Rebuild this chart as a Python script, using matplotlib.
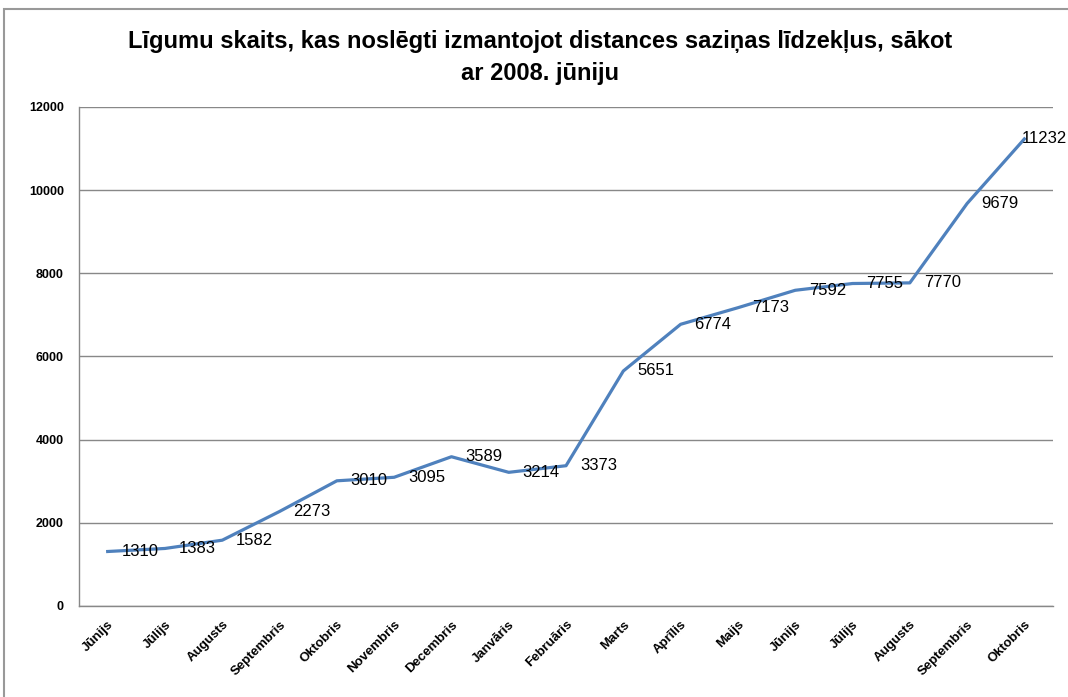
import matplotlib.pyplot as plt
from matplotlib.patches import Rectangle

plt.rcParams['font.family'] = ['Liberation Sans Narrow', 'Liberation Sans', 'DejaVu Sans']

months = ["Jūnijs", "Jūlijs", "Augusts", "Septembris", "Oktobris", "Novembris",
          "Decembris", "Janvāris", "Februāris", "Marts", "Aprīlis", "Maijs",
          "Jūnijs", "Jūlijs", "Augusts", "Septembris", "Oktobris"]
contracts = [1310, 1383, 1582, 2273, 3010, 3095, 3589, 3214, 3373,
             5651, 6774, 7173, 7592, 7755, 7770, 9679, 11232]
y_ticks = [0, 2000, 4000, 6000, 8000, 10000, 12000]

fig = plt.figure(figsize=(10.68, 6.97), dpi=100)
ax = fig.add_axes([0.074, 0.1306, 0.912, 0.7159])

x = list(range(len(contracts)))
ax.plot(x, contracts, color='#4F81BD', linewidth=2.3, solid_joinstyle='round')
for xi, v in zip(x, contracts):
    # last label is pushed left so it stays inside the chart, like Excel does
    dx = -2 if xi == len(contracts) - 1 else 10
    ax.annotate(str(v), (xi, v), xytext=(dx, 0), textcoords='offset points',
                ha='left', va='center', fontsize=12, color='black')

ax.set_xlim(-0.5, len(contracts) - 0.5)
ax.set_ylim(0, 12000)
ax.set_yticks(y_ticks)
ax.set_yticklabels([str(t) for t in y_ticks], fontsize=9, fontweight='bold')
ax.set_xticks(x)
ax.set_xticklabels(months, rotation=45, ha='right', rotation_mode='anchor',
                   fontsize=9.5, fontweight='bold')
ax.tick_params(axis='both', length=0)
ax.tick_params(axis='y', pad=11)
ax.tick_params(axis='x', pad=9)
ax.grid(True, axis='y', color='#888888', linewidth=1)
ax.set_axisbelow(True)
for side in ['top', 'right']:
    ax.spines[side].set_visible(False)
for side in ['left', 'bottom']:
    ax.spines[side].set_color('#888888')
    ax.spines[side].set_linewidth(1)

fig.text(0.506, 0.918, "Līgumu skaits, kas noslēgti izmantojot distances saziņas līdzekļus, sākot\nar 2008. jūniju",
         ha='center', va='center', fontsize=17, fontweight='bold', linespacing=1.5)

fig.patches.append(Rectangle((4 / 1068, -0.1), 1.2, 1 - 9 / 697 + 0.1, transform=fig.transFigure,
                             fill=False, edgecolor='#999999', linewidth=1.5))

fig.savefig('out.png', dpi=100)
